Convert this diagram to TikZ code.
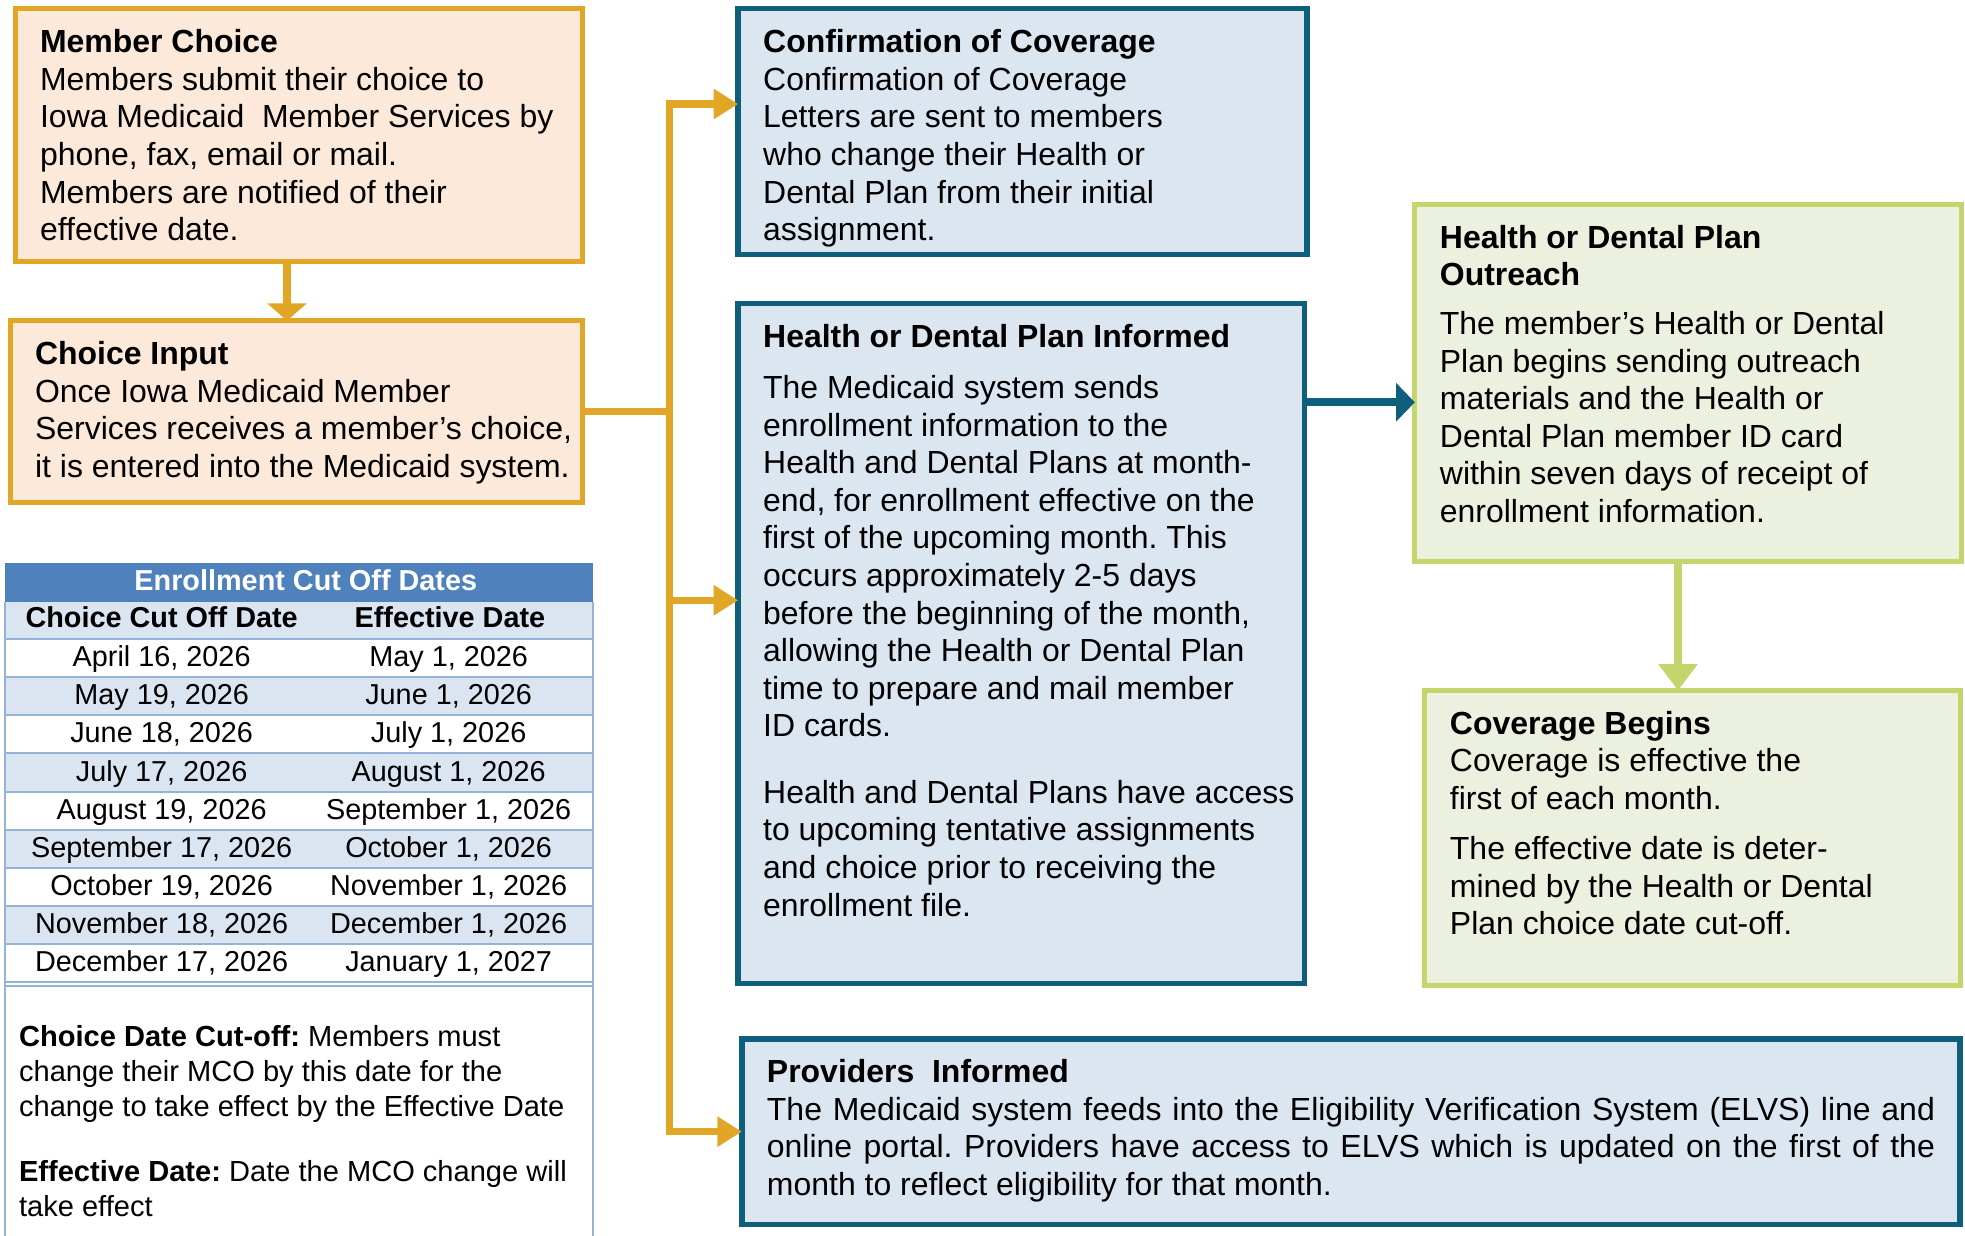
\documentclass[tikz,border=0pt]{standalone}
\usepackage{fontspec}
\setmainfont{Liberation Sans}
\usepackage{tikz}
\usetikzlibrary{arrows.meta, positioning, calc}
\definecolor{gold}{HTML}{E2A626}
\definecolor{peach}{HTML}{FCE9DA}
\definecolor{tealline}{HTML}{0E5F7C}
\definecolor{bluefill}{HTML}{DCE6F1}
\definecolor{greenline}{HTML}{C4D66B}
\definecolor{greenfill}{HTML}{EBF0DF}
\definecolor{tblhead}{HTML}{4F81BD}
\definecolor{rowblue}{HTML}{DBE5F1}
\definecolor{tblline}{HTML}{95B3D7}
\frenchspacing
\newcommand{\bodyfont}{\fontsize{25.5pt}{30pt}\selectfont}
\newcommand{\tablefont}{\fontsize{23pt}{28pt}\selectfont}
\newcommand{\notefont}{\fontsize{23.2pt}{28pt}\selectfont}
% lines are broken by hand, so let them run a little past the box width
\newcommand{\boxtext}[2]{\makebox[#1][l]{\parbox[t]{\dimexpr#1+60pt\relax}{\raggedright #2}}}
\tikzset{
    box/.style = {draw, rectangle, anchor=north west, inner xsep=20pt,
                  inner ysep=15pt, outer sep=0pt, text height=20pt, font=\bodyfont},
    orangebox/.style = {box, draw=gold, fill=peach, line width=4pt},
    bluebox/.style = {box, draw=tealline, fill=bluefill, line width=4.3pt},
    greenbox/.style = {box, draw=greenline, fill=greenfill, line width=4pt},
    goldline/.style = {draw=gold, line width=5.9pt},
    goldtip/.tip = {Triangle[length=19.5pt, width=23pt]},
    downtip/.tip = {Triangle[length=14pt, width=31pt]},
    sidetip/.tip = {Triangle[length=15pt, width=30pt]},
    greentip/.tip = {Triangle[length=21pt, width=30pt]},
    cell/.style = {anchor=base, inner sep=0pt, font=\tablefont},
    headcell/.style = {anchor=base, inner sep=0pt, font=\tablefont\bfseries},
    rowline/.style = {draw=tblline, line width=1.6pt}
    }

\begin{document}
\begin{tikzpicture}[x=1pt, y=-1pt]
    \useasboundingbox (0,0) rectangle (1568,985.5);

    % left column
    \node[orangebox, text depth=151.7pt] (member) at (12,7) {\boxtext{413pt}{%
        \textbf{Member Choice}\\
        Members submit their choice to\\
        Iowa Medicaid\ \ Member Services by\\
        phone, fax, email or mail.\\
        Members are notified of their\\
        effective date.}};
    \node[orangebox, text depth=95pt] (input) at (8,256) {\boxtext{417pt}{%
        \textbf{Choice Input}\\
        Once Iowa Medicaid Member\\
        Services receives a member’s choice,\\
        it is entered into the Medicaid system.}};

    % middle column
    \node[bluebox, text depth=146pt] (confirm) at (589,7) {\boxtext{414pt}{%
        \textbf{Confirmation of Coverage}\\
        Confirmation of Coverage\\
        Letters are sent to members\\
        who change their Health or\\
        Dental Plan from their initial\\
        assignment.}};
    \node[bluebox, text depth=493pt] (informed) at (589,242) {\boxtext{412pt}{%
        \textbf{Health or Dental Plan Informed}\\[11pt]
        The Medicaid system sends\\
        enrollment information to the\\
        Health and Dental Plans at month-\\
        end, for enrollment effective on the\\
        first of the upcoming month. This\\
        occurs approximately 2-5 days\\
        before the beginning of the month,\\
        allowing the Health or Dental Plan\\
        time to prepare and mail member\\
        ID cards.\\[23pt]
        Health and Dental Plans have access\\
        to upcoming tentative assignments\\
        and choice prior to receiving the\\
        enrollment file.}};
    \node[bluebox, text depth=98pt] (providers) at (592,829) {\parbox[t]{932pt}{%
        \textbf{Providers\ \ Informed}\\
        The Medicaid system feeds into the Eligibility Verification System
        (ELVS) line and\linebreak online portal. Providers have access to ELVS
        which is updated on the first of the\linebreak month to reflect
        eligibility for that month.}};

    % right column
    \node[greenbox, text depth=235pt] (outreach) at (1129,163) {\boxtext{396pt}{%
        \textbf{Health or Dental Plan}\\
        \textbf{Outreach}\\[9pt]
        The member’s Health or Dental\\
        Plan begins sending outreach\\
        materials and the Health or\\
        Dental Plan member ID card\\
        within seven days of receipt of\\
        enrollment information.}};
    \node[greenbox, text depth=185pt] (coverage) at (1137,551) {\boxtext{387pt}{%
        \textbf{Coverage Begins}\\
        Coverage is effective the\\
        first of each month.\\[10pt]
        The effective date is deter-\\
        mined by the Health or Dental\\
        Plan choice date cut-off.}};

    % connectors
    \coordinate (trunktop) at (534,83);
    \coordinate (trunkmid) at (534,479);
    \coordinate (trunkbot) at (534,903);
    \coordinate (split) at (534,328.5);
    \draw[goldline, downtip-] (input.north -| 229,0) -- (member.south -| 229,0);
    \draw[goldline] (input.east) -- (split);
    \draw[goldline, goldtip-goldtip, line join=miter]
        (trunktop -| confirm.west) -- (trunktop) -- (trunkbot) -- (trunkbot -| providers.west);
    \draw[goldline, -goldtip] (trunkmid) -- (trunkmid -| informed.west);
    \draw[draw=tealline, line width=6.7pt, -sidetip]
        (informed.east |- 0,321) -- (outreach.west |- 0,321);
    \draw[draw=greenline, line width=6.8pt, -greentip]
        (outreach.south -| 1339,0) -- (coverage.north -| 1339,0);

    % cut off table
    \fill[tblhead] (4,449) rectangle (473,480);
    \node[headcell, text=white] (tabletitle) at (244,471) {Enrollment Cut Off Dates};
    \fill[rowblue] (4,480) rectangle (473,510);
    \node[headcell] (cuthead) at (129,501) {Choice Cut Off Date};
    \node[headcell] (effhead) at (359,501) {Effective Date};
    \foreach \i/\rowfill/\cut/\eff in {
        1/white/{April 16, 2026}/{May 1, 2026},
        2/rowblue/{May 19, 2026}/{June 1, 2026},
        3/white/{June 18, 2026}/{July 1, 2026},
        4/rowblue/{July 17, 2026}/{August 1, 2026},
        5/white/{August 19, 2026}/{September 1, 2026},
        6/rowblue/{September 17, 2026}/{October 1, 2026},
        7/white/{October 19, 2026}/{November 1, 2026},
        8/rowblue/{November 18, 2026}/{December 1, 2026},
        9/white/{December 17, 2026}/{January 1, 2027}} {
        \pgfmathsetmacro\rowtop{510+(\i-1)*30.4}
        \fill[\rowfill] (4,\rowtop) rectangle (473,{\rowtop+30.4});
        \draw[rowline] (4,\rowtop) -- (473,\rowtop);
        \node[cell] (cut\i) at (129,{\rowtop+22}) {\cut};
        \node[cell] (eff\i) at (358,{\rowtop+22}) {\eff};
    }
    \draw[rowline] (4,783.6) -- (473,783.6);
    \draw[rowline] (4,786.8) -- (473,786.8);
    \draw[rowline] (4,480) -- (4,995);
    \draw[rowline] (473,480) -- (473,995);

    \node[anchor=base west, inner sep=0pt, font=\notefont] (notes) at (15,835) {\boxtext{450pt}{%
        \textbf{Choice Date Cut-off:} Members must\\
        change their MCO by this date for the\\
        change to take effect by the Effective Date\\[24pt]
        \textbf{Effective Date:} Date the MCO change will\\
        take effect}};
\end{tikzpicture}
\end{document}
